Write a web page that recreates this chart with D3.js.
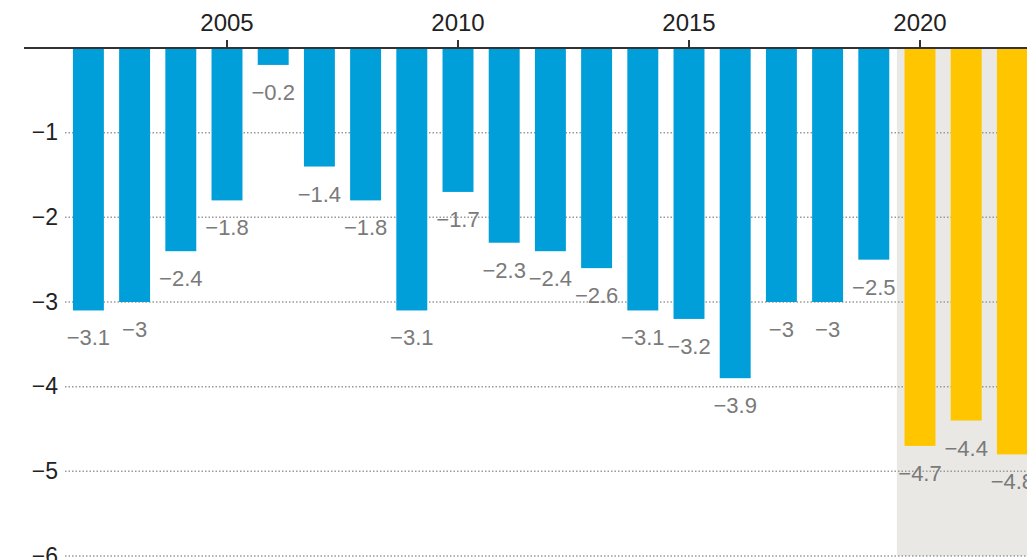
<!DOCTYPE html>
<html>
<head>
<meta charset="utf-8">
<script src="https://cdn.jsdelivr.net/npm/d3@7"></script>
<style>
  html, body { margin: 0; padding: 0; background: #fff; }
  svg { display: block; font-family: "Liberation Sans Narrow", "Arial Narrow", "Liberation Sans", sans-serif; }
</style>
</head>
<body>
<div id="chart"></div>
<script>
// Data
const years = [2002, 2003, 2004, 2005, 2006, 2007, 2008, 2009, 2010, 2011,
               2012, 2013, 2014, 2015, 2016, 2017, 2018, 2019, 2020, 2021, 2022];
const values = [-3.1, -3, -2.4, -1.8, -0.2, -1.4, -1.8, -3.1, -1.7, -2.3,
                -2.4, -2.6, -3.1, -3.2, -3.9, -3, -3, -2.5, -4.7, -4.4, -4.8];
const projectionYears = [2020, 2021, 2022];
const xTickYears = [2005, 2010, 2015, 2020];
const yTicks = [-1, -2, -3, -4, -5, -6];

const data = years.map((y, i) => ({ year: y, value: values[i] }));

const W = 1027, H = 560;
const fmt = v => (v < 0 ? "\u2212" : "") + String(Math.abs(v));

const svg = d3.select("#chart").append("svg")
  .attr("width", W)
  .attr("height", H);

const x = d3.scaleBand()
  .domain(years)
  .range([65.3, 1035.5])
  .paddingInner(0.33)
  .paddingOuter(0.165);

const y = d3.scaleLinear()
  .domain([0, -6])
  .range([48, 556]);

// shaded projection area
const shadeX0 = x(projectionYears[0]) - (x.step() - x.bandwidth()) / 2;
svg.append("rect")
  .attr("x", shadeX0)
  .attr("y", y(0))
  .attr("width", W - shadeX0)
  .attr("height", y(-6) - y(0))
  .attr("fill", "#e9e8e5");

// gridlines
svg.append("g")
  .selectAll("line")
  .data(yTicks)
  .join("line")
  .attr("x1", 65).attr("x2", W)
  .attr("y1", d => y(d)).attr("y2", d => y(d))
  .attr("stroke", "#999")
  .attr("stroke-width", 1.5)
  .attr("stroke-dasharray", "1.5,2");

// y labels
svg.append("g")
  .selectAll("text")
  .data(yTicks)
  .join("text")
  .attr("x", 58)
  .attr("y", d => y(d))
  .attr("dy", "0.34em")
  .attr("text-anchor", "end")
  .attr("fill", "#222")
  .style("font-size", "23px")
  .text(fmt);

// bars
svg.append("g")
  .selectAll("rect")
  .data(data)
  .join("rect")
  .attr("x", d => x(d.year))
  .attr("y", y(0))
  .attr("width", x.bandwidth())
  .attr("height", d => y(d.value) - y(0))
  .attr("fill", d => projectionYears.includes(d.year) ? "#ffc600" : "#009fda");

// value labels
svg.append("g")
  .selectAll("text")
  .data(data)
  .join("text")
  .attr("x", d => x(d.year) + x.bandwidth() / 2)
  .attr("y", d => y(d.value) + 35)
  .attr("text-anchor", "middle")
  .attr("fill", "#7a7a7a")
  .style("font-size", "22px")
  .text(d => fmt(d.value));

// top axis
svg.append("line")
  .attr("x1", 24).attr("x2", W)
  .attr("y1", y(0)).attr("y2", y(0))
  .attr("stroke", "#333")
  .attr("stroke-width", 2);

const ticks = svg.append("g")
  .selectAll("g")
  .data(xTickYears)
  .join("g")
  .attr("transform", d => `translate(${x(d) + x.bandwidth() / 2},0)`);

ticks.append("line")
  .attr("y1", y(0) - 8).attr("y2", y(0))
  .attr("stroke", "#333")
  .attr("stroke-width", 2);

ticks.append("text")
  .attr("y", 31)
  .attr("text-anchor", "middle")
  .attr("fill", "#222")
  .style("font-size", "24px")
  .text(d => d);
</script>
</body>
</html>
